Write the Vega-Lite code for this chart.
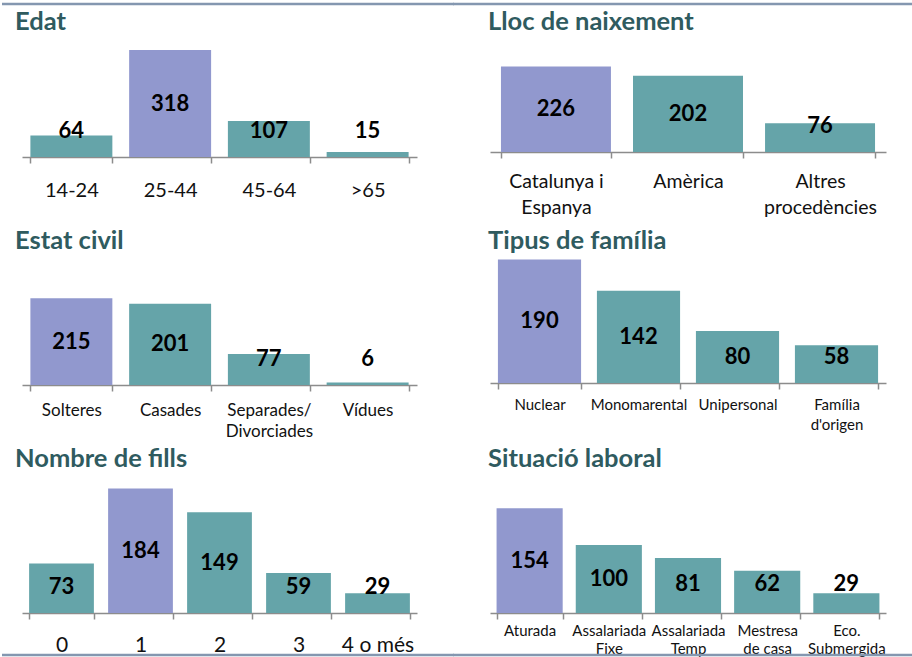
{
  "$schema": "https://vega.github.io/schema/vega-lite/v6.json",
  "padding": {"top": 2, "left": 0, "right": 0, "bottom": 0},
  "background": "white",
  "config": {
    "view": {"stroke": null},
    "font": "Lato",
    "axis": {"domainColor": "#8c8c8c", "domainWidth": 1.5, "tickColor": "#8c8c8c", "tickWidth": 1.5, "tickSize": 6, "tickBand": "extent", "labelColor": "#111111", "labelFont": "Lato", "labelAngle": 0, "labelLimit": 0, "labelOverlap": false, "grid": false, "labelBaseline": "top"},
    "title": {"anchor": "start", "frame": "group", "baseline": "alphabetic", "font": "Lato", "fontSize": 25.5, "fontWeight": "bold", "color": "#2f5b5f"}
  },
  "datasets": {
    "edat": [{"cat": "14-24", "value": 64}, {"cat": "25-44", "value": 318}, {"cat": "45-64", "value": 107}, {"cat": ">65", "value": 15}],
    "lloc": [{"cat": "Catalunya i|Espanya", "value": 226}, {"cat": "Amèrica", "value": 202}, {"cat": "Altres|procedències", "value": 76}],
    "estat": [{"cat": "Solteres", "value": 215}, {"cat": "Casades", "value": 201}, {"cat": "Separades/|Divorciades", "value": 77}, {"cat": "Vídues", "value": 6}],
    "tipus": [{"cat": "Nuclear", "value": 190}, {"cat": "Monomarental", "value": 142}, {"cat": "Unipersonal", "value": 80}, {"cat": "Família|d'origen", "value": 58}],
    "fills": [{"cat": "0", "value": 73}, {"cat": "1", "value": 184}, {"cat": "2", "value": 149}, {"cat": "3", "value": 59}, {"cat": "4 o més", "value": 29}],
    "laboral": [{"cat": "Aturada", "value": 154}, {"cat": "Assalariada|Fixe", "value": 100}, {"cat": "Assalariada|Temp", "value": 81}, {"cat": "Mestresa|de casa", "value": 62}, {"cat": "Eco.|Submergida", "value": 29}],
    "one": [{"k": 1}]
  },
  "columns": 2,
  "spacing": {"row": 0, "column": 73},
  "bounds": "flush",
  "concat": [
    {"width": 395, "height": 1, "data": {"name": "one"},
     "mark": {"type": "rule", "color": "#8497b0", "strokeWidth": 2.5, "strokeCap": "butt"},
     "encoding": {"x": {"datum": -20, "type": "quantitative", "scale": {"domain": [0, 395], "nice": false, "zero": false}, "axis": null},
                  "x2": {"datum": 432},
                  "y": {"datum": 1, "type": "quantitative", "scale": {"domain": [0, 1], "nice": false}, "axis": null}}},
    {"width": 396, "height": 1, "data": {"name": "one"},
     "mark": {"type": "rule", "color": "#8497b0", "strokeWidth": 2.5, "strokeCap": "butt"},
     "encoding": {"x": {"datum": -37, "type": "quantitative", "scale": {"domain": [0, 396], "nice": false, "zero": false}, "axis": null},
                  "x2": {"datum": 424},
                  "y": {"datum": 1, "type": "quantitative", "scale": {"domain": [0, 1], "nice": false}, "axis": null}}},

    {"width": 395, "height": 152, "data": {"name": "edat"},
     "title": {"text": "Edat", "offset": -30.5, "dx": -7},
     "transform": [{"joinaggregate": [{"op": "max", "field": "value", "as": "maxValue"}]}],
     "encoding": {"x": {"field": "cat", "type": "nominal", "sort": null, "title": null, "scale": {"paddingInner": 0.17, "paddingOuter": 0.085},
                        "axis": {"labelFontSize": 20, "labelPadding": 17, "labelLineHeight": 25, "labelExpr": "split(datum.label, '|')"}}},
     "layer": [
       {"mark": {"type": "bar"},
        "encoding": {"y": {"field": "value", "type": "quantitative", "scale": {"domain": [0, 451.7], "nice": false}, "axis": null},
                     "color": {"condition": {"test": "datum.value === datum.maxValue", "value": "#9198ce"}, "value": "#65a4a9"}}},
       {"mark": {"type": "text", "font": "Lato", "fontWeight": "bold", "fontSize": 22, "baseline": "middle", "color": "#000000"},
        "encoding": {"y": {"field": "value", "type": "quantitative", "scale": {"domain": [0, 154.6, 451.7], "range": [126, 126, 76], "nice": false, "zero": false}, "axis": null},
                     "text": {"field": "value", "type": "quantitative"}}}
     ],
     "resolve": {"scale": {"y": "independent"}}},

    {"width": 396, "height": 147, "data": {"name": "lloc"},
     "title": {"text": "Lloc de naixement", "offset": -30.5, "dx": -2},
     "transform": [{"joinaggregate": [{"op": "max", "field": "value", "as": "maxValue"}]}],
     "encoding": {"x": {"field": "cat", "type": "nominal", "sort": null, "title": null, "scale": {"paddingInner": 0.167, "paddingOuter": 0.083},
                        "axis": {"labelFontSize": 19.5, "labelPadding": 14, "labelLineHeight": 26, "labelExpr": "split(datum.label, '|')"}}},
     "layer": [
       {"mark": {"type": "bar"},
        "encoding": {"y": {"field": "value", "type": "quantitative", "scale": {"domain": [0, 388.9], "nice": false}, "axis": null},
                     "color": {"condition": {"test": "datum.value === datum.maxValue", "value": "#9198ce"}, "value": "#65a4a9"}}},
       {"mark": {"type": "text", "font": "Lato", "fontWeight": "bold", "fontSize": 22, "baseline": "middle", "color": "#000000"},
        "encoding": {"y": {"field": "value", "type": "quantitative", "scale": {"domain": [0, 137.6, 388.9], "range": [121, 121, 73.5], "nice": false, "zero": false}, "axis": null},
                     "text": {"field": "value", "type": "quantitative"}}}
     ],
     "resolve": {"scale": {"y": "independent"}}},

    {"width": 395, "height": 228, "data": {"name": "estat"},
     "title": {"text": "Estat civil", "offset": -97, "dx": -7},
     "transform": [{"joinaggregate": [{"op": "max", "field": "value", "as": "maxValue"}]}],
     "encoding": {"x": {"field": "cat", "type": "nominal", "sort": null, "title": null, "scale": {"paddingInner": 0.17, "paddingOuter": 0.085},
                        "axis": {"labelFontSize": 17, "labelPadding": 11, "labelLineHeight": 21, "labelExpr": "split(datum.label, '|')"}}},
     "layer": [
       {"mark": {"type": "bar"},
        "encoding": {"y": {"field": "value", "type": "quantitative", "scale": {"domain": [0, 564.4], "nice": false}, "axis": null},
                     "color": {"condition": {"test": "datum.value === datum.maxValue", "value": "#9198ce"}, "value": "#65a4a9"}}},
       {"mark": {"type": "text", "font": "Lato", "fontWeight": "bold", "fontSize": 22, "baseline": "middle", "color": "#000000"},
        "encoding": {"y": {"field": "value", "type": "quantitative", "scale": {"domain": [0, 128.7, 564.4], "range": [202, 202, 114], "nice": false, "zero": false}, "axis": null},
                     "text": {"field": "value", "type": "quantitative"}}}
     ],
     "resolve": {"scale": {"y": "independent"}}},

    {"width": 396, "height": 226, "data": {"name": "tipus"},
     "title": {"text": "Tipus de família", "offset": -97, "dx": -2},
     "transform": [{"joinaggregate": [{"op": "max", "field": "value", "as": "maxValue"}]}],
     "encoding": {"x": {"field": "cat", "type": "nominal", "sort": null, "title": null, "scale": {"paddingInner": 0.16, "paddingOuter": 0.08},
                        "axis": {"labelFontSize": 15, "labelPadding": 8.5, "labelLineHeight": 20, "labelExpr": "split(datum.label, '|')"}}},
     "layer": [
       {"mark": {"type": "bar"},
        "encoding": {"y": {"field": "value", "type": "quantitative", "scale": {"domain": [0, 347.7], "nice": false}, "axis": null},
                     "color": {"condition": {"test": "datum.value === datum.maxValue", "value": "#9198ce"}, "value": "#65a4a9"}}},
       {"mark": {"type": "text", "font": "Lato", "fontWeight": "bold", "fontSize": 22, "baseline": "middle", "color": "#000000"},
        "encoding": {"y": {"field": "value", "type": "quantitative", "scale": {"domain": [0, 80, 347.7], "range": [200, 200, 113], "nice": false, "zero": false}, "axis": null},
                     "text": {"field": "value", "type": "quantitative"}}}
     ],
     "resolve": {"scale": {"y": "independent"}}},

    {"width": 395, "height": 228, "data": {"name": "fills"},
     "title": {"text": "Nombre de fills", "offset": -87, "dx": -7},
     "transform": [{"joinaggregate": [{"op": "max", "field": "value", "as": "maxValue"}]}],
     "encoding": {"x": {"field": "cat", "type": "nominal", "sort": null, "title": null, "scale": {"paddingInner": 0.18, "paddingOuter": 0.09},
                        "axis": {"labelFontSize": 21, "labelPadding": 15, "labelLineHeight": 25, "labelExpr": "split(datum.label, '|')"}}},
     "layer": [
       {"mark": {"type": "bar"},
        "encoding": {"y": {"field": "value", "type": "quantitative", "scale": {"domain": [0, 336.8], "nice": false}, "axis": null},
                     "color": {"condition": {"test": "datum.value === datum.maxValue", "value": "#9198ce"}, "value": "#65a4a9"}}},
       {"mark": {"type": "text", "font": "Lato", "fontWeight": "bold", "fontSize": 22, "baseline": "middle", "color": "#000000"},
        "encoding": {"y": {"field": "value", "type": "quantitative", "scale": {"domain": [0, 76.8, 336.8], "range": [202, 202, 114], "nice": false, "zero": false}, "axis": null},
                     "text": {"field": "value", "type": "quantitative"}}}
     ],
     "resolve": {"scale": {"y": "independent"}}},

    {"width": 396, "height": 228, "data": {"name": "laboral"},
     "title": {"text": "Situació laboral", "offset": -87, "dx": -2},
     "transform": [{"joinaggregate": [{"op": "max", "field": "value", "as": "maxValue"}]}],
     "encoding": {"x": {"field": "cat", "type": "nominal", "sort": null, "title": null, "scale": {"paddingInner": 0.165, "paddingOuter": 0.083},
                        "axis": {"labelFontSize": 15, "labelPadding": 4, "labelLineHeight": 18.5, "labelExpr": "split(datum.label, '|')"}}},
     "layer": [
       {"mark": {"type": "bar"},
        "encoding": {"y": {"field": "value", "type": "quantitative", "scale": {"domain": [0, 335.3], "nice": false}, "axis": null},
                     "color": {"condition": {"test": "datum.value === datum.maxValue", "value": "#9198ce"}, "value": "#65a4a9"}}},
       {"mark": {"type": "text", "font": "Lato", "fontWeight": "bold", "fontSize": 22, "baseline": "middle", "color": "#000000"},
        "encoding": {"y": {"field": "value", "type": "quantitative", "scale": {"domain": [0, 85.3, 335.3], "range": [199, 199, 114], "nice": false, "zero": false}, "axis": null},
                     "text": {"field": "value", "type": "quantitative"}}}
     ],
     "resolve": {"scale": {"y": "independent"}}},

    {"width": 395, "height": 42, "data": {"name": "one"},
     "mark": {"type": "rule", "color": "#8497b0", "strokeWidth": 2.5, "strokeCap": "butt"},
     "encoding": {"x": {"datum": -20, "type": "quantitative", "scale": {"domain": [0, 395], "nice": false, "zero": false}, "axis": null},
                  "x2": {"datum": 432},
                  "y": {"datum": 0, "type": "quantitative", "scale": {"domain": [0, 1], "nice": false}, "axis": null}}},
    {"width": 396, "height": 42, "data": {"name": "one"},
     "mark": {"type": "rule", "color": "#8497b0", "strokeWidth": 2.5, "strokeCap": "butt"},
     "encoding": {"x": {"datum": -37, "type": "quantitative", "scale": {"domain": [0, 396], "nice": false, "zero": false}, "axis": null},
                  "x2": {"datum": 424},
                  "y": {"datum": 0, "type": "quantitative", "scale": {"domain": [0, 1], "nice": false}, "axis": null}}}
  ]
}
